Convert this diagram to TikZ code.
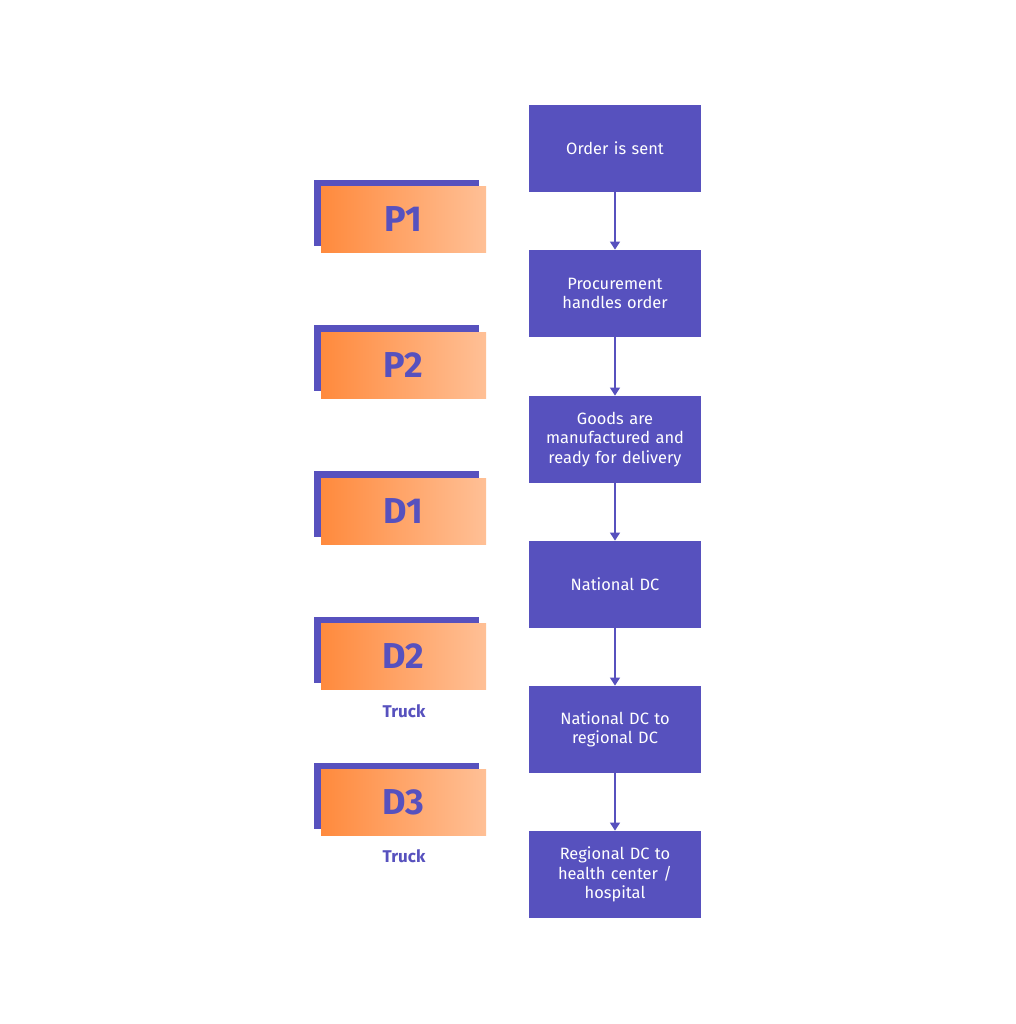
\documentclass[tikz,border=0pt]{standalone}
\usepackage{fontspec}
\setmainfont{Fira Sans}
\usetikzlibrary{arrows.meta,positioning}
\definecolor{flowpurple}{RGB}{87,81,190}
\definecolor{gradstart}{RGB}{255,138,61}
\definecolor{gradend}{RGB}{255,192,150}

\begin{document}
\begin{tikzpicture}[x=0.5pt,y=-0.5pt,
	stepbox/.style={fill=flowpurple, text=white, minimum width=86pt, minimum height=43.5pt, inner sep=0pt, text width=82pt, align=center, font=\fontsize{8.2}{9.75}\selectfont},
	phaseback/.style={fill=flowpurple, minimum width=82.5pt, minimum height=33pt, inner sep=0pt},
	phasebox/.style={left color=gradstart, right color=gradend, minimum width=82.5pt, minimum height=33pt, inner sep=0pt, text=flowpurple, font=\fontsize{18}{18}\bfseries\selectfont},
	modelabel/.style={text=flowpurple, font=\fontsize{8.5}{8.5}\bfseries\selectfont},
	flow/.style={flowpurple, line width=0.6pt, -{Triangle[length=4pt,width=5pt]}}]

	% Canvas
	\useasboundingbox[fill=white] (0,0) rectangle (1016,1024);

	% Steps
	\node[stepbox] (sent)     at (615,148.5) {Order is sent};
	\node[stepbox] (procure)  at (615,293.5) {Procurement\\handles order};
	\node[stepbox] (goods)    at (615,439.5) {Goods are\\manufactured and\\ready for delivery};
	\node[stepbox] (national) at (615,584.5) {National DC};
	\node[stepbox] (regional) at (615,729.5) {National DC to\\regional DC};
	\node[stepbox] (hospital) at (615,874.5) {Regional DC to\\health center /\\hospital};

	\draw[flow] (sent) -- (procure);
	\draw[flow] (procure) -- (goods);
	\draw[flow] (goods) -- (national);
	\draw[flow] (national) -- (regional);
	\draw[flow] (regional) -- (hospital);

	% Phases
	\node[phaseback] (p1back) at (396.5,212.5) {};
	\node[phasebox]  (p1)     at (403.5,219.5) {P1};
	\node[phaseback] (p2back) at (396.5,358) {};
	\node[phasebox]  (p2)     at (403.5,365) {P2};
	\node[phaseback] (d1back) at (396.5,504) {};
	\node[phasebox]  (d1)     at (403.5,511) {D1};
	\node[phaseback] (d2back) at (396.5,649.5) {};
	\node[phasebox]  (d2)     at (403.5,656.5) {D2};
	\node[phaseback] (d3back) at (396.5,795.5) {};
	\node[phasebox]  (d3)     at (403.5,802.5) {D3};

	% Transport
	\node[modelabel] (d2mode) at (404,711) {Truck};
	\node[modelabel] (d3mode) at (404,856) {Truck};
\end{tikzpicture}
\end{document}
